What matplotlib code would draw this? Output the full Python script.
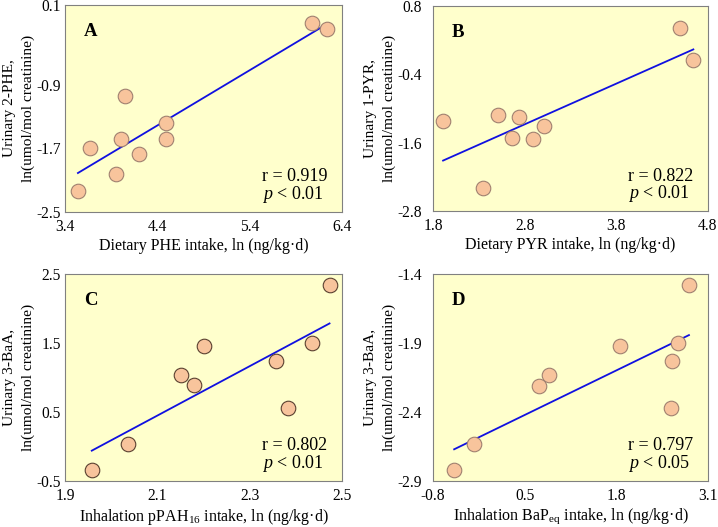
import matplotlib
matplotlib.use("Agg")
import matplotlib.pyplot as plt
import numpy as np

plt.rcParams['font.family'] = ['Liberation Serif', 'DejaVu Serif']
plt.rcParams['mathtext.fontset'] = 'custom'
plt.rcParams['mathtext.rm'] = 'Liberation Serif'
plt.rcParams['mathtext.it'] = 'Liberation Serif:italic'
plt.rcParams['mathtext.bf'] = 'Liberation Serif:bold'

# Panel A
a_x = [6.08, 6.24, 4.05, 4.49, 4.01, 4.49, 3.67, 4.20, 3.95, 3.54]
a_y = [-0.12, -0.20, -1.04, -1.38, -1.58, -1.58, -1.69, -1.77, -2.02, -2.23]
a_fit = (0.694, -4.467)
# Panel B
b_x = [4.49, 4.64, 1.91, 2.51, 2.74, 3.01, 2.66, 2.89, 2.34]
b_y = [0.42, -0.15, -1.22, -1.11, -1.15, -1.30, -1.51, -1.54, -2.39]
b_fit = (0.715, -3.28)
# Panel C
c_x = [2.473, 2.435, 2.200, 2.357, 2.151, 2.179, 2.382, 2.036, 1.958]
c_y = [2.34, 1.50, 1.46, 1.24, 1.03, 0.89, 0.56, 0.04, -0.34]
c_fit = (3.58, -7.07)
# Panel D
d_x = [2.83, 2.67, 1.85, 2.59, 0.84, 0.70, 2.58, -0.22, -0.50]
d_y = [-1.48, -1.90, -1.92, -2.03, -2.13, -2.21, -2.37, -2.63, -2.82]
d_fit = (0.2485, -2.546)

panels = [
    dict(letter='A', x=a_x, y=a_y, fit=a_fit, xt=[3.4, 4.4, 5.4, 6.4], yt=[-2.5, -1.7, -0.9, 0.1],
         xl='Dietary PHE intake, ln (ng/kg·d)', yl='Urinary 2-PHE,\nln(umol/mol creatinine)',
         r='r = 0.919', p='$p$ < 0.01', edge='#a08070'),
    dict(letter='B', x=b_x, y=b_y, fit=b_fit, xt=[1.8, 2.8, 3.8, 4.8], yt=[-2.8, -1.6, -0.4, 0.8],
         xl='Dietary PYR intake, ln (ng/kg·d)', yl='Urinary 1-PYR,\nln(umol/mol creatinine)',
         r='r = 0.822', p='$p$ < 0.01', edge='#a08070'),
    dict(letter='C', x=c_x, y=c_y, fit=c_fit, xt=[1.9, 2.1, 2.3, 2.5], yt=[-0.5, 0.5, 1.5, 2.5],
         xl='Inhalation pPAH$_{16}$ intake, ln (ng/kg·d)', yl='Urinary 3-BaA,\nln(umol/mol creatinine)',
         r='r = 0.802', p='$p$ < 0.01', edge='#5a4030'),
    dict(letter='D', x=d_x, y=d_y, fit=d_fit, xt=[-0.8, 0.5, 1.8, 3.1], yt=[-2.9, -2.4, -1.9, -1.4],
         xl='Inhalation BaP$_{\\rm eq}$ intake, ln (ng/kg·d)', yl='Urinary 3-BaA,\nln(umol/mol creatinine)',
         r='r = 0.797', p='$p$ < 0.05', edge='#a08070'),
]

W, H = 718, 527
rects = [
    (65, 5, 342, 212),
    (433, 6, 708, 211),
    (65, 274, 342, 481),
    (433, 274, 708, 481),
]
ypads = [3, 8, 3, 8]
ylab_px = [46, 53, 46, 53]

fig = plt.figure(figsize=(W / 100, H / 100), dpi=100)
for pd_, (l, t, r, b), yp, ylp in zip(panels, rects, ypads, ylab_px):
    ax = fig.add_axes([l / W, 1 - b / H, (r - l) / W, (b - t) / H])
    ax.set_facecolor('#ffffcc')
    for s in ax.spines.values():
        s.set_color('#808080')
        s.set_linewidth(0.8)
    ax.scatter(pd_['x'], pd_['y'], s=110, facecolor='#f8c49c', edgecolor=pd_['edge'],
               linewidth=0.8, zorder=3)
    xs = np.array([min(pd_['x']), max(pd_['x'])])
    m, c = pd_['fit']
    ax.plot(xs, m * xs + c, color='#1010e0', lw=1.3, zorder=2)
    ax.set_xlim(pd_['xt'][0], pd_['xt'][-1])
    ax.set_ylim(pd_['yt'][0], pd_['yt'][-1])
    ax.set_xticks(pd_['xt'])
    ax.set_yticks(pd_['yt'])
    ax.set_xticklabels([f'{v:g}' for v in pd_['xt']])
    ax.set_yticklabels([f'{v:.1f}' for v in pd_['yt']])
    ax.tick_params(length=0, labelsize=11.2)
    ax.tick_params(axis='x', pad=5)
    ax.tick_params(axis='y', pad=yp)
    ax.set_xlabel(pd_['xl'], fontsize=11.5, labelpad=2)
    ax.set_ylabel(pd_['yl'], fontsize=11.1, linespacing=1.5, va='center', ha='center',
                  multialignment='center')
    ax.yaxis.set_label_coords(-ylp / (r - l), 0.5)
    ax.text(0.068, 0.87, pd_['letter'], transform=ax.transAxes, fontsize=13.5,
            fontweight='bold', ha='left', va='center')
    ax.text(0.71, 0.17, pd_['r'], transform=ax.transAxes, fontsize=13, ha='left', va='center')
    ax.text(0.71, 0.085, pd_['p'], transform=ax.transAxes, fontsize=13, ha='left', va='center')

fig.savefig('out.png', dpi=100)
